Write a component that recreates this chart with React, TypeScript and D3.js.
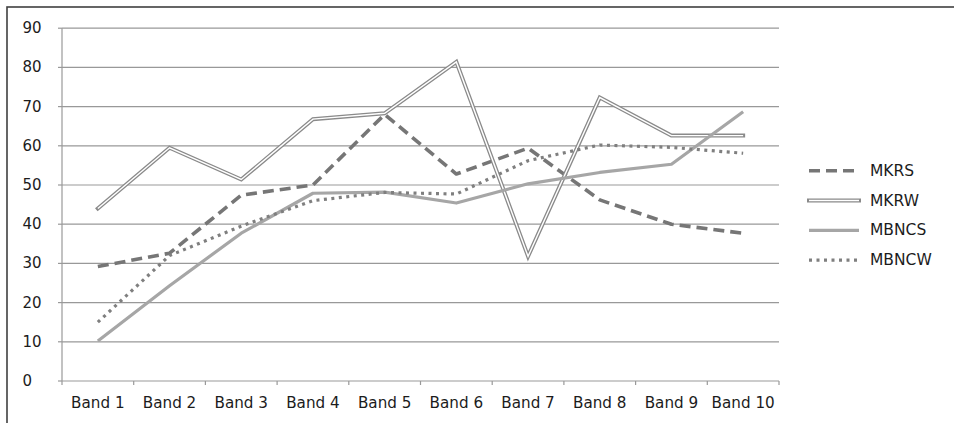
import React from "react";
import * as d3 from "d3";

const bands = ["Band 1", "Band 2", "Band 3", "Band 4", "Band 5", "Band 6", "Band 7", "Band 8", "Band 9", "Band 10"];
const yTicks = [0, 10, 20, 30, 40, 50, 60, 70, 80, 90];

const mkrs = [29.2, 32.6, 47.4, 50, 68, 52.8, 59.4, 46.2, 40, 37.7];
const mkrw = [44, 59.5, 51.4, 66.8, 68.3, 81.4, 31.8, 72.3, 62.6, 62.6];
const mbncs = [10.2, 24.3, 37.7, 47.9, 48.2, 45.4, 50.3, 53.2, 55.3, 68.7];
const mbncw = [15, 32, 39.5, 46, 48.1, 47.7, 56.2, 60.2, 59.6, 58.1];

const seriesNames = ["MKRS", "MKRW", "MBNCS", "MBNCW"];

const W = 954;
const H = 423;
const plot = { left: 62, right: 779, top: 28.2, bottom: 381 };
const FONT = "'DejaVu Sans', Verdana, sans-serif";

type Style = { kind: "dash" | "double" | "solid" | "dot" };
const styles: Style[] = [{ kind: "dash" }, { kind: "double" }, { kind: "solid" }, { kind: "dot" }];

function StyledPath({ d, kind }: { d: string; kind: Style["kind"] }) {
  if (kind === "dash")
    return <path d={d} fill="none" stroke="#767676" strokeWidth={3.6} strokeDasharray="11,6" strokeLinejoin="round" />;
  if (kind === "double")
    return (
      <g>
        <path d={d} fill="none" stroke="#8a8a8a" strokeWidth={4} strokeLinejoin="miter" strokeMiterlimit={10} strokeLinecap="square" />
        <path d={d} fill="none" stroke="#ffffff" strokeWidth={1.4} strokeLinejoin="miter" strokeMiterlimit={10} />
      </g>
    );
  if (kind === "solid")
    return <path d={d} fill="none" stroke="#a6a6a6" strokeWidth={3.2} strokeLinejoin="round" />;
  return <path d={d} fill="none" stroke="#7f7f7f" strokeWidth={3.2} strokeDasharray="3,4.5" />;
}

export default function App() {
  const x = d3.scaleBand<string>().domain(bands).range([plot.left, plot.right]);
  const y = d3.scaleLinear().domain([0, 90]).range([plot.bottom, plot.top]);
  const cx = (b: string) => (x(b) ?? 0) + x.bandwidth() / 2;

  const line = d3
    .line<number>()
    .x((_, i) => cx(bands[i]))
    .y((v) => y(v));

  const allSeries = [mkrs, mkrw, mbncs, mbncw];
  const boundaries = d3.range(bands.length + 1).map((i) => plot.left + i * x.step());

  return (
    <svg width={W} height={H} style={{ position: "absolute", left: 0, top: 0 }} fontFamily={FONT}>
      <rect x={0} y={0} width={W} height={H} fill="#ffffff" />
      <rect x={7} y={7} width={W + 20} height={H + 20} fill="none" stroke="#404040" strokeWidth={1.6} />

      {yTicks.map((t) => (
        <g key={t}>
          {t > 0 && <line x1={plot.left} x2={plot.right} y1={y(t)} y2={y(t)} stroke="#999999" strokeWidth={1.2} />}
          <line x1={plot.left - 4} x2={plot.left} y1={y(t)} y2={y(t)} stroke="#999999" strokeWidth={1.2} />
          <text x={22.5} y={y(t)} dominantBaseline="central" fontSize={15} fill="#1c1c1c">
            {t}
          </text>
        </g>
      ))}

      <line x1={plot.left} x2={plot.left} y1={plot.top} y2={plot.bottom} stroke="#999999" strokeWidth={1.2} />
      <line x1={plot.left} x2={plot.right} y1={plot.bottom} y2={plot.bottom} stroke="#999999" strokeWidth={1.2} />
      {boundaries.map((bx, i) => (
        <line key={i} x1={bx} x2={bx} y1={plot.bottom} y2={plot.bottom + 4} stroke="#999999" strokeWidth={1.2} />
      ))}
      {bands.map((b) => (
        <text key={b} x={cx(b)} y={407.5} textAnchor="middle" fontSize={15.2} fill="#1c1c1c">
          {b}
        </text>
      ))}

      {allSeries.map((s, i) => (
        <StyledPath key={seriesNames[i]} d={line(s) ?? ""} kind={styles[i].kind} />
      ))}

      {seriesNames.map((name, i) => {
        const ly = 170.7 + i * 29.8;
        return (
          <g key={name}>
            <StyledPath d={`M809,${ly}L859,${ly}`} kind={styles[i].kind} />
            <text x={870} y={ly} dominantBaseline="central" fontSize={15.5} fill="#1c1c1c">
              {name}
            </text>
          </g>
        );
      })}
    </svg>
  );
}
